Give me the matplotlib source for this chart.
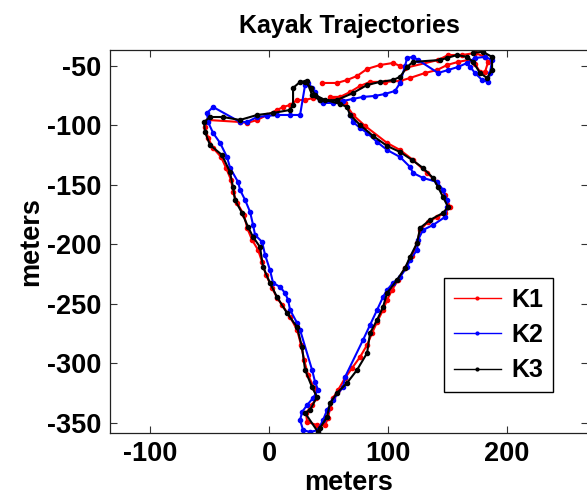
import matplotlib
matplotlib.use('Agg')
import matplotlib.pyplot as plt

plt.rcParams['font.family'] = ['Liberation Sans', 'DejaVu Sans']
plt.rcParams['font.weight'] = 'bold'
plt.rcParams['axes.unicode_minus'] = False

# kayak tracks (meters)
k1_x = [44.6, 57.2, 65.6, 74.0, 82.4, 93.3, 104.2, 110.1, 114.3, 142.1, 150.5, 162.2, 173.1,
        181.5, 184.1, 181.5, 177.3, 173.1, 167.3, 158.9, 149.6, 141.2, 131.1, 118.5, 110.1,
        97.5, 84.9, 76.5, 68.1, 59.7, 51.3, 63.9, 70.6, 80.7, 99.2, 110.1, 121.0, 132.8,
        141.2, 147.9, 152.1, 147.9, 141.2, 133.6, 126.9, 124.4, 120.2, 114.3, 108.4, 103.4,
        99.2, 95.8, 90.8, 86.6, 82.4, 76.5, 69.8, 63.9, 58.0, 53.8, 51.3, 49.6, 47.1, 40.4,
        32.0, 31.1, 36.2, 39.5, 37.9, 32.8, 29.5, 26.9, 23.6, 17.7, 11.0, 6.8, 2.6, -2.5,
        -5.8, -9.2, -14.2, -18.4, -21.0, -26.8, -30.2, -31.9, -36.1, -40.3, -47.0, -51.2,
        -53.7, -51.2, -24.3, -18.4, -10.0, -1.6, 6.8, 11.8, 17.7, 23.6, 30.3, 37.0]
k1_y = [-64.3, -64.3, -61.8, -58.4, -52.5, -49.2, -47.5, -50.0, -51.7, -45.0, -40.8, -40.8, -39.1,
        -42.4, -46.6, -55.0, -55.0, -48.3, -45.0, -46.6, -49.2, -53.4, -55.9, -60.1, -62.6,
        -63.4, -63.4, -66.8, -71.9, -76.0, -76.0, -81.1, -91.2, -100.4, -114.7, -120.6, -129.0,
        -139.9, -147.5, -158.4, -168.5, -173.5, -176.9, -181.1, -187.8, -198.7, -209.7, -219.7,
        -229.8, -238.2, -246.6, -255.0, -265.1, -274.4, -284.4, -294.5, -303.8, -312.2, -322.3,
        -329.0, -337.4, -345.8, -351.7, -351.7, -349.1, -341.6, -334.9, -329.0, -320.6, -309.7,
        -297.0, -284.4, -271.8, -260.9, -250.8, -245.0, -236.5, -225.6, -214.7, -204.6, -196.2,
        -186.1, -175.2, -165.1, -155.9, -145.8, -135.7, -126.5, -118.9, -110.5, -101.3, -95.4,
        -97.1, -97.9, -95.4, -91.2, -87.0, -84.5, -82.8, -78.6, -78.6, -76.9]

k2_x = [68.1, 70.6, 76.5, 82.4, 90.8, 99.2, 110.1, 118.5, 121.0, 129.4, 141.2, 146.3, 149.6,
        149.6, 147.9, 137.9, 129.4, 125.2, 124.4, 118.5, 116.0, 110.1, 104.2, 99.2, 95.8, 90.8,
        84.9, 79.0, 63.9, 62.2, 53.8, 48.8, 45.4, 41.2, 34.5, 28.6, 26.1, 27.8, 32.0, 37.0,
        41.2, 38.7, 36.2, 26.1, 23.6, 17.7, 16.0, 13.5, 9.3, 3.4, 0.8, -3.3, -5.8, -11.7,
        -13.4, -15.9, -20.1, -24.3, -26.0, -32.7, -35.3, -41.1, -47.0, -51.2, -52.1, -47.0,
        -24.3, -18.4, -10.0, -1.6, 6.8, 17.7, 26.1, 30.3, 32.8, 36.2, 38.7, 42.9, 45.4, 53.8,
        62.2, 70.6, 79.0, 89.1, 97.5, 105.9, 110.1, 114.3, 116.0, 121.0, 125.2, 142.1, 150.5,
        158.9, 166.4, 173.1, 181.5, 187.4, 185.7, 184.1, 179.0, 173.1, 168.9]
k2_y = [-91.2, -97.1, -102.1, -106.3, -113.9, -120.6, -126.5, -134.9, -139.9, -144.1, -147.5,
        -154.2, -162.6, -168.5, -176.9, -183.6, -187.8, -196.2, -204.6, -213.0, -218.9, -227.3,
        -232.3, -238.2, -244.1, -255.0, -267.6, -280.2, -311.3, -319.7, -330.7, -339.1, -347.5,
        -355.9, -357.6, -355.9, -347.5, -340.7, -334.9, -329.0, -322.3, -315.5, -305.5, -271.8,
        -266.0, -255.0, -246.6, -240.8, -235.7, -232.3, -221.4, -208.8, -197.9, -192.0, -183.6,
        -172.7, -162.6, -154.2, -147.5, -135.7, -126.5, -114.7, -106.3, -97.1, -89.5, -84.5,
        -97.1, -97.1, -92.9, -92.0, -91.2, -91.2, -91.2, -66.0, -64.3, -68.5, -71.9, -78.6,
        -81.1, -81.1, -79.4, -77.7, -76.0, -75.2, -73.5, -71.0, -64.3, -50.0, -43.3, -42.4,
        -45.0, -55.9, -53.4, -50.8, -47.5, -43.3, -42.4, -45.0, -55.9, -63.4, -61.8, -55.9, -50.8]

k3_x = [30.3, 35.3, 38.7, 47.1, 59.7, 65.5, 68.1, 76.5, 87.4, 99.2, 110.1, 120.2, 129.4, 137.8,
        142.0, 146.2, 150.4, 146.2, 135.3, 126.9, 124.4, 118.5, 114.3, 107.6, 99.2, 95.8, 90.8,
        84.9, 82.4, 73.9, 65.5, 57.1, 51.3, 48.7, 42.9, 41.2, 30.3, 34.5, 40.3, 36.1, 30.3,
        27.7, 23.5, 15.1, 6.7, 0.8, -5.0, -7.6, -13.4, -17.6, -22.7, -28.6, -30.3, -32.8, -39.5,
        -49.6, -53.8, -54.6, -49.6, -38.7, -24.4, -10.1, 3.4, 17.6, 20.2, 20.2, 26.1, 31.9,
        36.1, 42.9, 57.1, 70.6, 82.4, 93.3, 104.2, 110.1, 116.0, 121.0, 143.7, 149.6, 158.0,
        166.4, 171.4, 177.3, 183.2, 187.4, 187.4, 179.8, 171.4]
k3_y = [-63.4, -68.5, -74.4, -78.6, -81.9, -84.5, -91.2, -99.6, -108.8, -117.2, -122.3, -129.0,
        -135.7, -144.1, -151.7, -160.1, -168.5, -173.5, -179.4, -186.1, -198.7, -210.5, -219.7,
        -229.8, -240.8, -252.5, -263.4, -274.4, -291.2, -305.5, -316.4, -324.8, -333.2, -344.9,
        -354.2, -357.6, -341.6, -339.0, -328.1, -319.7, -305.5, -286.1, -269.3, -257.6, -244.1,
        -232.3, -218.9, -202.1, -193.7, -185.3, -173.5, -162.6, -151.7, -139.1, -124.8, -116.4,
        -105.5, -97.1, -92.9, -92.9, -95.4, -91.2, -89.5, -87.0, -82.8, -68.5, -63.4, -62.6,
        -74.4, -79.0, -78.6, -72.7, -66.0, -63.4, -61.8, -59.2, -50.8, -46.6, -45.0, -43.3,
        -40.8, -42.4, -46.6, -55.9, -60.1, -53.4, -42.4, -38.2, -38.8]

labels = ['K1', 'K2', 'K3']
x_ticks = [-100, 0, 100, 200]
y_ticks = [-50, -100, -150, -200, -250, -300, -350]

fig = plt.figure(figsize=(5.87, 4.97), dpi=100)
ax = fig.add_axes([110 / 587, 1 - 433 / 497, 478 / 587, 383 / 497])

tracks = [(k1_x, k1_y, '#ff0000'), (k2_x, k2_y, '#0000ff'), (k3_x, k3_y, 'k')]
for (xs, ys, c), lab in zip(tracks, labels):
    ax.plot(xs, ys, '.-', color=c, lw=1.5, ms=6, label=lab)

ax.set_xlim(-133.6, 268)
ax.set_ylim(-358.4, -36.6)
ax.set_xticks(x_ticks)
ax.set_yticks(y_ticks)
ax.tick_params(direction='in', length=5, width=0.8, top=True, right=True,
               labelsize=19.5, pad=6, color='#333333')
for s in ax.spines.values():
    s.set_linewidth(0.9)
    s.set_color('#222222')

ax.set_title('Kayak Trajectories', fontsize=18, fontweight='bold', pad=12)
ax.set_xlabel('meters', fontsize=19.5, fontweight='bold', labelpad=2)
ax.set_ylabel('meters', fontsize=19.5, fontweight='bold', labelpad=2)

leg = ax.legend(loc='upper right', bbox_to_anchor=(0.927, 0.405), borderaxespad=0,
                fontsize=18, fancybox=False, framealpha=1, edgecolor='k', numpoints=1,
                handlelength=1.9, handletextpad=0.4, labelspacing=0.45, borderpad=0.4)
leg.get_frame().set_linewidth(1.0)
for h in leg.get_lines():
    h.set_linewidth(1.0)
    h.set_markersize(4)

fig.savefig('out.png', dpi=100)
